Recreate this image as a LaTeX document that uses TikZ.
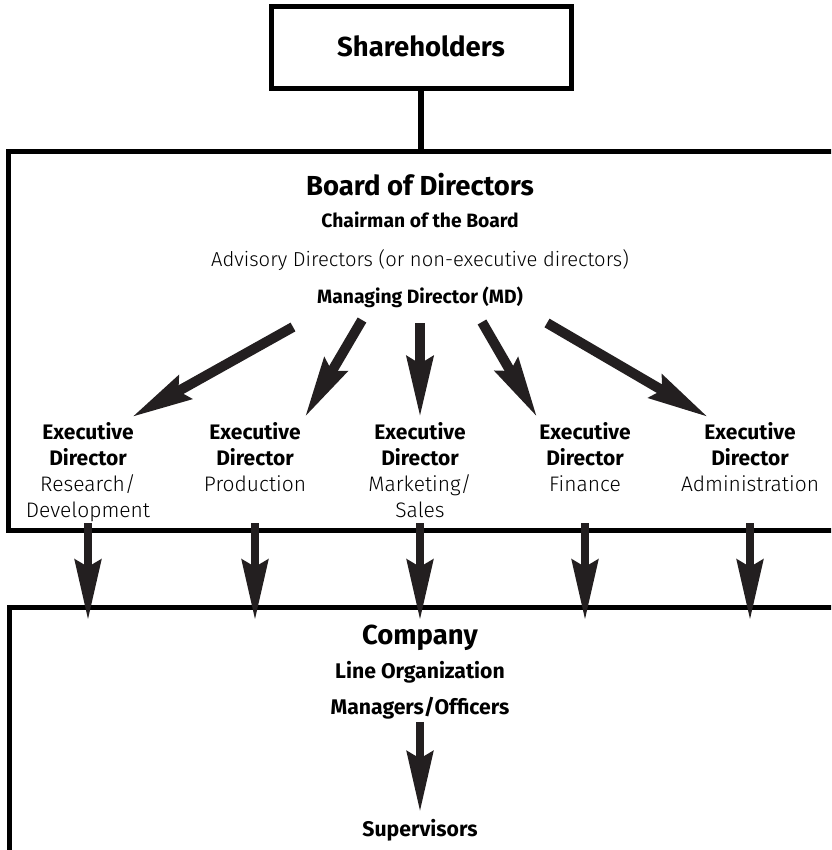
\documentclass[tikz,border=0pt]{standalone}
\usepackage{fontspec}
\setmainfont{Fira Sans}
\newfontfamily\lightfont{Fira Sans Light}
\usetikzlibrary{arrows.meta}
\definecolor{ink}{HTML}{231F20}
\begin{document}
\begin{tikzpicture}[x=1pt,y=-1pt,
    box/.style={draw,line width=5pt,outer sep=0pt,inner sep=0pt},
    bigtext/.style={font=\bfseries\fontsize{27.5}{32}\selectfont,inner sep=0pt,anchor=base},
    smalltext/.style={font=\bfseries\fontsize{19.3}{23}\selectfont,inner sep=0pt,anchor=base},
    lighttext/.style={font=\lightfont\fontsize{20.2}{24}\selectfont,inner sep=0pt,anchor=base},
    linetext/.style={font=\bfseries\fontsize{21.2}{25}\selectfont,inner sep=0pt,anchor=base},
    execnode/.style={align=center,anchor=north,inner sep=0pt,font=\fontsize{21}{26}\selectfont},
    fatarrow/.style={ink,line width=10pt,-{Stealth[length=60pt,width=26pt,inset=7pt]}},
    downarrow/.style={ink,line width=8.5pt,-{Stealth[length=60pt,width=26pt,inset=7pt]}}]
    \useasboundingbox (0,0) rectangle (831,850);
    \clip (0,0) rectangle (831,850);
    % boxes
    \node[box,minimum width=300pt,minimum height=82pt] (sharebox) at (421,48) {};
    \node[bigtext] (share) at (421,57) {Shareholders};
    \node[box,anchor=north west,minimum width=900pt,minimum height=379pt] (boardbox) at (8.5,151.5) {};
    \node[box,anchor=north west,minimum width=900pt,minimum height=245pt] (companybox) at (9,607.5) {};
    \draw[line width=5.5pt] (sharebox.south) -- (sharebox.south |- boardbox.north);
    % board of directors
    \node[bigtext] (board) at (420,196) {Board of Directors};
    \node[smalltext] (chair) at (420,228) {Chairman of the Board};
    \node[lighttext] (advisory) at (420,266) {Advisory Directors (or non-executive directors)};
    \node[smalltext] (md) at (420,303) {Managing Director (MD)};
    \node[execnode] (ex1) at (88,422.5) {\textbf{Executive}\\\textbf{Director}\\{\lightfont Research/}\\{\lightfont Development}};
    \node[execnode] (ex2) at (255,422.5) {\textbf{Executive}\\\textbf{Director}\\{\lightfont Production}};
    \node[execnode] (ex3) at (420,422.5) {\textbf{Executive}\\\textbf{Director}\\{\lightfont Marketing/}\\{\lightfont Sales}};
    \node[execnode] (ex4) at (585,422.5) {\textbf{Executive}\\\textbf{Director}\\{\lightfont Finance}};
    \node[execnode] (ex5) at (750,422.5) {\textbf{Executive}\\\textbf{Director}\\{\lightfont Administration}};
    % arrows from the MD
    \coordinate (md1) at (293,327);
    \coordinate (md2) at (362,320);
    \coordinate (md3) at (420,323);
    \coordinate (md4) at (482,322);
    \coordinate (md5) at (547,323);
    \draw[fatarrow] (md1) -- ([xshift=44pt,yshift=5.5pt]ex1.north);
    \draw[fatarrow] (md2) -- ([xshift=50pt,yshift=5.5pt]ex2.north);
    \draw[fatarrow] (md3) -- ([yshift=5.5pt]ex3.north);
    \draw[fatarrow] (md4) -- ([xshift=-48pt,yshift=5.5pt]ex4.north);
    \draw[fatarrow] (md5) -- ([xshift=-42pt,yshift=5.5pt]ex5.north);
    % executive directors to the company
    \foreach \e in {ex1,ex2,ex3,ex4,ex5}
        \draw[downarrow] ([yshift=7.5pt]\e |- boardbox.south) -- ([yshift=-12.5pt]\e |- companybox.north);
    % company
    \node[bigtext] (company) at (420,644) {Company};
    \node[linetext] (lineorg) at (420,678) {Line Organization};
    \node[linetext] (managers) at (420,714) {Managers/Officers};
    \node[linetext] (supervisors) at (420,836) {Supervisors};
    \draw[downarrow] ([yshift=-3pt]managers.south) -- ([yshift=7pt]supervisors.north);
\end{tikzpicture}
\end{document}
